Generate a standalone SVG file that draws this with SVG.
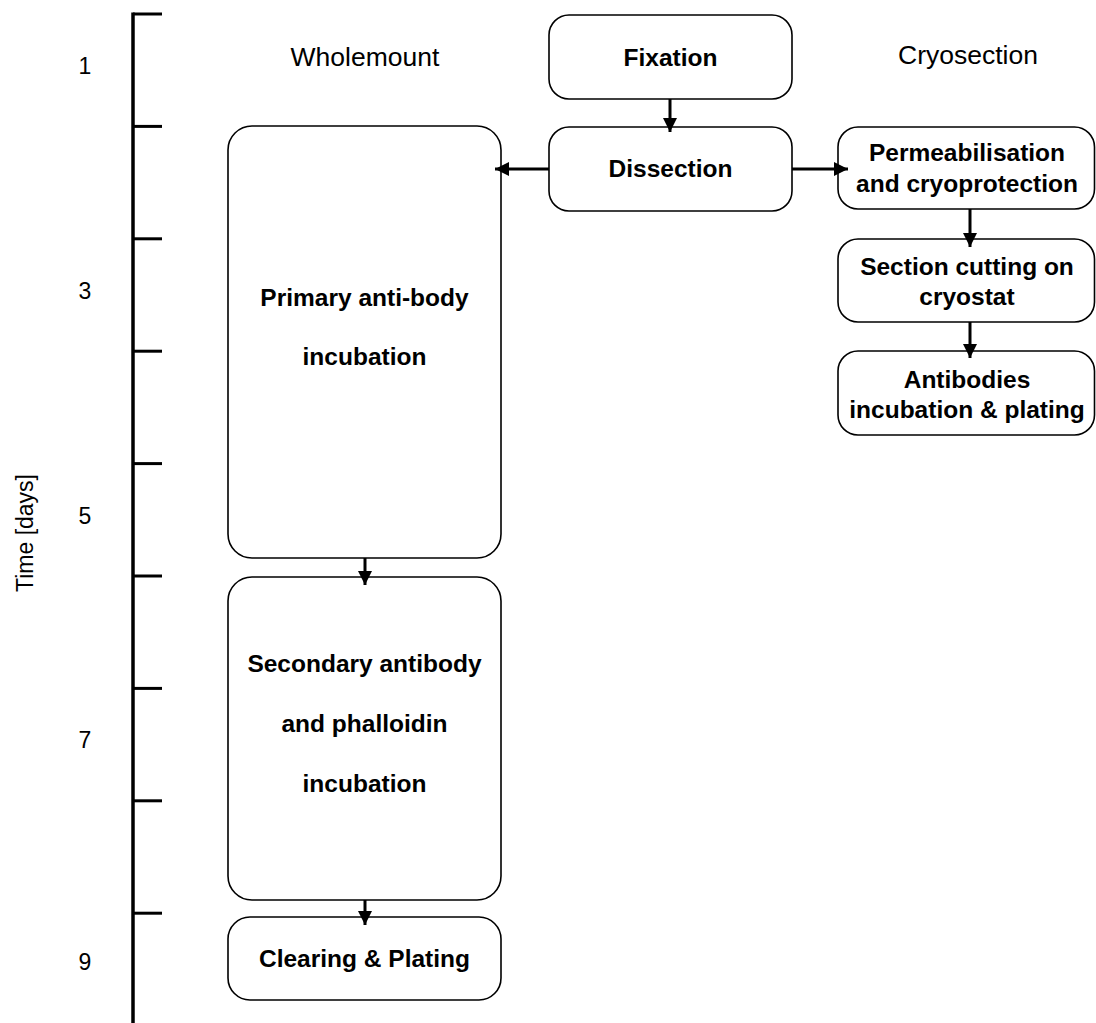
<svg xmlns="http://www.w3.org/2000/svg" width="1096" height="1023" viewBox="0 0 1096 1023">
<style>
.box{fill:#fff;stroke:#000;stroke-width:1.6}
.b{font-family:"Liberation Sans",Arial,sans-serif;font-weight:bold;font-size:24.5px;text-anchor:middle;fill:#000}
.n{font-family:"Liberation Sans",Arial,sans-serif;font-size:26.5px;text-anchor:middle;fill:#000}
.d{font-family:"Liberation Sans",Arial,sans-serif;font-size:23px;text-anchor:middle;fill:#000}
.ax{stroke:#000;stroke-width:3.5;fill:none}
.tk{stroke:#000;stroke-width:3;fill:none}
.c{stroke:#000;stroke-width:3;fill:none}
</style>
<defs>
<marker id="ah" viewBox="0 0 10 10" refX="10" refY="5" markerWidth="14" markerHeight="14" markerUnits="userSpaceOnUse" orient="auto">
<path d="M0,0 L10,5 L0,10 Z" fill="#000"/>
</marker>
</defs>
<rect width="1096" height="1023" fill="#fff"/>
<g id="axis">
<line class="ax" x1="133" y1="12.5" x2="133" y2="1023"/>
<line class="tk" x1="133" y1="14" x2="162" y2="14"/>
<line class="tk" x1="133" y1="126.4" x2="162" y2="126.4"/>
<line class="tk" x1="133" y1="238.8" x2="162" y2="238.8"/>
<line class="tk" x1="133" y1="351.2" x2="162" y2="351.2"/>
<line class="tk" x1="133" y1="463.6" x2="162" y2="463.6"/>
<line class="tk" x1="133" y1="576" x2="162" y2="576"/>
<line class="tk" x1="133" y1="688.4" x2="162" y2="688.4"/>
<line class="tk" x1="133" y1="800.8" x2="162" y2="800.8"/>
<line class="tk" x1="133" y1="913.2" x2="162" y2="913.2"/>
<text class="d" x="85" y="74">1</text>
<text class="d" x="85" y="299">3</text>
<text class="d" x="85" y="524">5</text>
<text class="d" x="85" y="748">7</text>
<text class="d" x="85" y="970">9</text>
<text class="d" font-size="24" transform="translate(33,533) rotate(-90)">Time [days]</text>
</g>
<g id="headers">
<text class="n" x="365" y="66">Wholemount</text>
<text class="n" x="968" y="64">Cryosection</text>
</g>
<g id="fixation">
<rect class="box" x="549" y="15" width="243" height="84" rx="20"/>
<text class="b" x="670.5" y="66">Fixation</text>
</g>
<g id="dissection">
<rect class="box" x="549" y="127" width="243" height="84" rx="20"/>
<text class="b" x="670.5" y="177">Dissection</text>
</g>
<g id="primary">
<rect class="box" x="228" y="126" width="273" height="432" rx="24"/>
<text class="b" x="364.5" y="306">Primary anti-body</text>
<text class="b" x="364.5" y="365">incubation</text>
</g>
<g id="secondary">
<rect class="box" x="228" y="577" width="273" height="323" rx="24"/>
<text class="b" x="364.5" y="672">Secondary antibody</text>
<text class="b" x="364.5" y="732">and phalloidin</text>
<text class="b" x="364.5" y="792">incubation</text>
</g>
<g id="clearing">
<rect class="box" x="228" y="917" width="273" height="83" rx="22"/>
<text class="b" x="364.5" y="967">Clearing &amp; Plating</text>
</g>
<g id="permeabilisation">
<rect class="box" x="838" y="127" width="256.5" height="82" rx="20"/>
<text class="b" x="967" y="161">Permeabilisation</text>
<text class="b" x="967" y="192">and cryoprotection</text>
</g>
<g id="section">
<rect class="box" x="838" y="239" width="256.5" height="83" rx="20"/>
<text class="b" x="967" y="275">Section cutting on</text>
<text class="b" x="967" y="305">cryostat</text>
</g>
<g id="antibodies">
<rect class="box" x="838" y="351" width="256.5" height="84" rx="20"/>
<text class="b" x="967" y="388">Antibodies</text>
<text class="b" x="967" y="418">incubation &amp; plating</text>
</g>
<g id="connectors">
<line class="c" x1="670" y1="99" x2="670" y2="132" marker-end="url(#ah)"/>
<line class="c" x1="549" y1="169" x2="495" y2="169" marker-end="url(#ah)"/>
<line class="c" x1="792" y1="169" x2="848" y2="169" marker-end="url(#ah)"/>
<line class="c" x1="970" y1="209" x2="970" y2="247" marker-end="url(#ah)"/>
<line class="c" x1="970" y1="322" x2="970" y2="358" marker-end="url(#ah)"/>
<line class="c" x1="365" y1="558" x2="365" y2="585" marker-end="url(#ah)"/>
<line class="c" x1="365" y1="900" x2="365" y2="925" marker-end="url(#ah)"/>
</g>
</svg>
